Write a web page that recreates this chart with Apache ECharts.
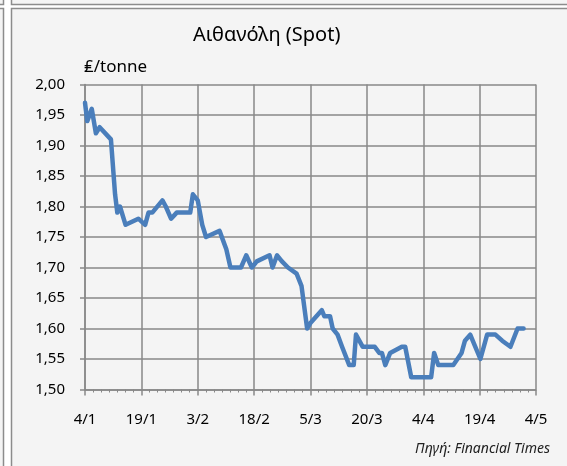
<!DOCTYPE html>
<html>
<head>
<meta charset="utf-8">
<script src="https://cdn.jsdelivr.net/npm/echarts@6/dist/echarts.min.js"></script>
<style>
  html, body { margin: 0; padding: 0; background: #ffffff; }
  #chart { width: 567px; height: 466px; }
</style>
</head>
<body>
<div id="chart"></div>
<script>
// days counted from 4/1
const days = [0, 0.6, 1.8, 2.9, 3.9, 6.9, 8.0, 8.6, 9.3, 10.8, 14.2, 16, 16.9, 17.9, 20.6, 21.5, 22.9, 24.4, 28, 28.7, 30,
  31.2, 32.2, 35.8, 37.6, 38.7, 41.5, 42.9, 44.4, 45.7, 49.1, 49.9, 51.1, 52.4, 54, 56.3, 57.6, 59.1, 60.1, 63, 63.7,
  65.2, 65.9, 67.2, 68.4, 70.3, 71.5, 72.1, 73.9, 77.1, 78.3, 79.0, 79.9, 81.2, 84.3, 85.2, 86.8, 92.1, 92.9, 94, 98,
  100.2, 101.1, 102.5, 105.2, 107, 109.2, 111, 113.2, 115.1, 116.7];
const prices = [1.97, 1.94, 1.96, 1.92, 1.93, 1.91, 1.82, 1.79, 1.80, 1.77, 1.78, 1.77, 1.79, 1.79, 1.81, 1.80, 1.78, 1.79, 1.79, 1.82, 1.81,
  1.77, 1.75, 1.76, 1.73, 1.70, 1.70, 1.72, 1.70, 1.71, 1.72, 1.70, 1.72, 1.71, 1.70, 1.69, 1.67, 1.60, 1.61, 1.63, 1.62,
  1.62, 1.60, 1.59, 1.57, 1.54, 1.54, 1.59, 1.57, 1.57, 1.56, 1.56, 1.54, 1.56, 1.57, 1.57, 1.52, 1.52, 1.56, 1.54, 1.54,
  1.56, 1.58, 1.59, 1.55, 1.59, 1.59, 1.58, 1.57, 1.60, 1.60];
const xTickLabels = ['4/1', '19/1', '3/2', '18/2', '5/3', '20/3', '4/4', '19/4', '4/5'];

const myChart = echarts.init(document.getElementById('chart'));
const font = 'Noto Sans, sans-serif';
const gridColor = '#888888';

const option = {
  backgroundColor: '#ffffff',
  animation: false,
  graphic: [
    // table-like cell frames around the chart
    { type: 'rect', shape: { x: -10, y: -10, width: 13.5, height: 14.5 }, style: { fill: '#f4f4f4', stroke: '#8c8c8c', lineWidth: 1.5 } },
    { type: 'rect', shape: { x: 11.5, y: -10, width: 600, height: 14.5 }, style: { fill: '#f4f4f4', stroke: '#8c8c8c', lineWidth: 1.5 } },
    { type: 'rect', shape: { x: -10, y: 8.5, width: 13.5, height: 500 }, style: { fill: '#f4f4f4', stroke: '#8c8c8c', lineWidth: 1.5 } },
    { type: 'rect', z: -1, shape: { x: 11.5, y: 8.5, width: 600, height: 500 }, style: { fill: '#f4f4f4', stroke: '#8c8c8c', lineWidth: 1.5 } },
    { type: 'text', left: 193, top: 25, style: { text: 'Αιθανόλη (Spot)', font: '20px ' + font, fill: '#000' } },
    { type: 'text', left: 84, top: 59, style: { text: '₤/tonne', font: '17px ' + font, fill: '#000' } },
    { type: 'text', right: 17, top: 442, style: { text: 'Πηγή: Financial Times', font: 'italic 14px ' + font, fill: '#222' } }
  ],
  grid: { left: 85, right: 31, top: 84.5, bottom: 76.5 },
  xAxis: {
    type: 'value',
    min: 0,
    max: 120,
    interval: 15,
    axisLine: { lineStyle: { color: gridColor, width: 1.5 } },
    axisTick: { show: true, length: 6, lineStyle: { color: gridColor, width: 1.5 } },
    minorTick: { show: true, splitNumber: 7, length: 3, lineStyle: { color: gridColor, width: 1 } },
    splitLine: { show: true, lineStyle: { color: gridColor, width: 1.5 } },
    axisLabel: {
      margin: 23,
      fontFamily: font,
      fontSize: 15,
      color: '#000',
      formatter: function (v) { return xTickLabels[Math.round(v / 15)]; }
    }
  },
  yAxis: {
    type: 'value',
    min: 1.5,
    max: 2.0,
    interval: 0.05,
    axisLine: { show: true, lineStyle: { color: gridColor, width: 1.5 } },
    axisTick: { show: true, length: 5, lineStyle: { color: gridColor, width: 1.5 } },
    splitLine: { show: true, lineStyle: { color: gridColor, width: 1.5 } },
    axisLabel: {
      margin: 20,
      fontFamily: font,
      fontSize: 15,
      color: '#000',
      formatter: function (v) { return v.toFixed(2).replace('.', ','); }
    }
  },
  series: [
    {
      type: 'line',
      symbol: 'none',
      data: days.map(function (d, i) { return [d, prices[i]]; }),
      lineStyle: { color: '#4a7ebb', width: 4.5, join: 'round', cap: 'round' },
      itemStyle: { color: '#4a7ebb' }
    }
  ]
};

myChart.setOption(option);
window.addEventListener('resize', function () {
  myChart.resize();
});
</script>
</body>
</html>
